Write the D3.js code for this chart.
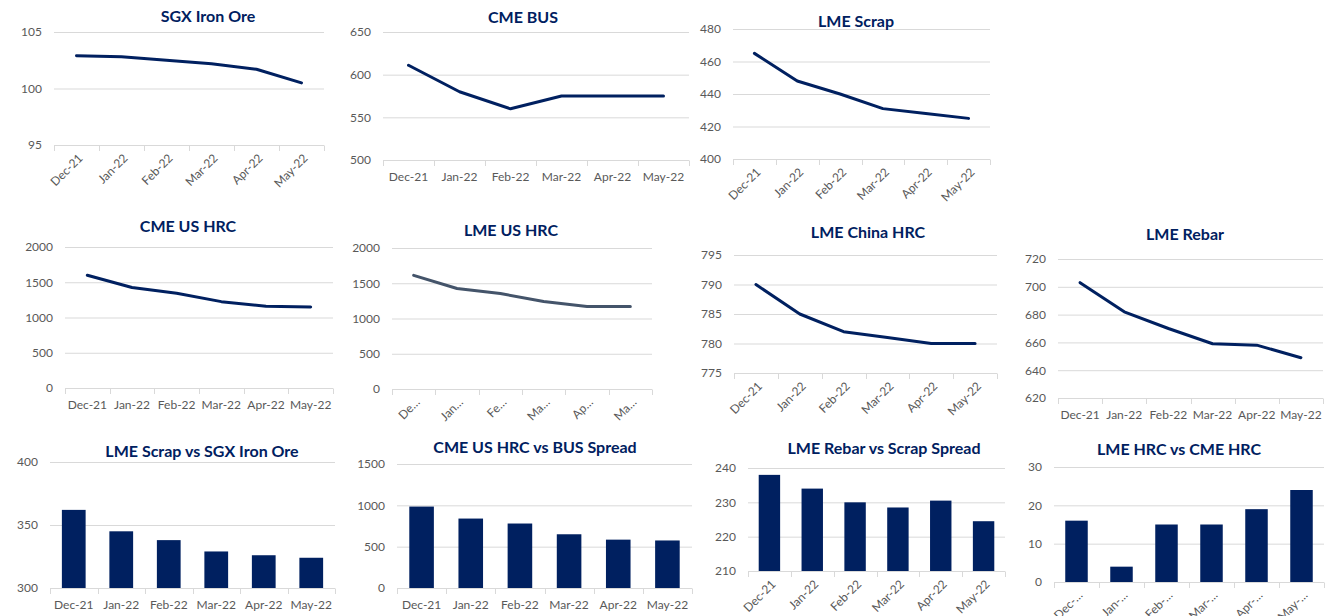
<!DOCTYPE html>
<html>
<head>
<meta charset="utf-8">
<script src="https://cdn.jsdelivr.net/npm/d3@7"></script>
<style>
  body { margin: 0; background: #fff; }
  svg text { font-family: Lato, "Open Sans", sans-serif; }
</style>
</head>
<body>
<div id="chart"></div>
<script>
// categories
const months = ["Dec-21", "Jan-22", "Feb-22", "Mar-22", "Apr-22", "May-22"];
const monthsCutA = ["De…", "Jan…", "Fe…", "Ma…", "Ap…", "Ma…"];
const monthsCutB = ["Dec-…", "Jan-…", "Feb-…", "Mar-…", "Apr-…", "May-…"];

// series values
const sgxIronOre = [102.9, 102.8, 102.5, 102.2, 101.7, 100.5];
const cmeBus = [611, 580, 560, 575, 575, 575];
const lmeScrap = [465, 448, 440, 431, 428, 425];
const cmeUsHrc = [1600, 1425, 1345, 1225, 1160, 1150];
const lmeUsHrc = [1612, 1425, 1355, 1240, 1170, 1170];
const lmeChinaHrc = [790, 785, 782, 781, 780, 780];
const lmeRebar = [703, 682, 670, 659, 658, 649];
const scrapVsIronOre = [362, 345, 338, 329, 326, 324];
const hrcVsBusSpread = [985, 840, 780, 650, 585, 575];
const rebarVsScrapSpread = [238, 234, 230, 228.5, 230.5, 224.5];
const lmeVsCmeHrc = [16, 4, 15, 15, 19, 24];

// y tick labels
const ticksIronOre = [95, 100, 105];
const ticksBus = [500, 550, 600, 650];
const ticksScrap = [400, 420, 440, 460, 480];
const ticksHrc = [0, 500, 1000, 1500, 2000];
const ticksChina = [775, 780, 785, 790, 795];
const ticksRebar = [620, 640, 660, 680, 700, 720];
const ticksScrapIron = [300, 350, 400];
const ticksSpread = [0, 500, 1000, 1500];
const ticksRebarScrap = [210, 220, 230, 240];
const ticksLmeCme = [0, 10, 20, 30];

const W = 1327, H = 616;
const navy = "#002060";
const fmt = d3.format("d");

// layout of the panels
const panels = [
  {title: "SGX Iron Ore", values: sgxIronOre, labels: months, type: "line", ticks: ticksIronOre, rotate: true,
   left: 54, right: 324, top: 32, bottom: 145, tx: 208, ty: 16},
  {title: "CME BUS", values: cmeBus, labels: months, type: "line", ticks: ticksBus, rotate: false,
   left: 383, right: 689, top: 32, bottom: 160, tx: 523, ty: 17},
  {title: "LME Scrap", values: lmeScrap, labels: months, type: "line", ticks: ticksScrap, rotate: true,
   left: 733, right: 990, top: 29, bottom: 159, tx: 856, ty: 21},
  {title: "CME US HRC", values: cmeUsHrc, labels: months, type: "line", ticks: ticksHrc, rotate: false,
   left: 65, right: 333, top: 247, bottom: 388, tx: 188, ty: 226},
  {title: "LME US HRC", values: lmeUsHrc, labels: monthsCutA, type: "line", ticks: ticksHrc, rotate: true,
   left: 392, right: 652, top: 248, bottom: 389, tx: 511, ty: 230, color: "#44546a"},
  {title: "LME China HRC", values: lmeChinaHrc, labels: months, type: "line", ticks: ticksChina, rotate: true,
   left: 734, right: 997, top: 255, bottom: 373, tx: 868, ty: 232},
  {title: "LME Rebar", values: lmeRebar, labels: months, type: "line", ticks: ticksRebar, rotate: false,
   left: 1058, right: 1323, top: 259, bottom: 398, tx: 1185, ty: 234},
  {title: "LME Scrap vs SGX Iron Ore", values: scrapVsIronOre, labels: months, type: "bar", ticks: ticksScrapIron, rotate: false,
   left: 50, right: 335, top: 462, bottom: 588, tx: 202, ty: 451},
  {title: "CME US HRC vs BUS Spread", values: hrcVsBusSpread, labels: months, type: "bar", ticks: ticksSpread, rotate: false,
   left: 397, right: 692, top: 464, bottom: 588, tx: 535, ty: 447},
  {title: "LME Rebar vs Scrap Spread", values: rebarVsScrapSpread, labels: months, type: "bar", ticks: ticksRebarScrap, rotate: true,
   left: 748, right: 1005, top: 468, bottom: 571, tx: 884, ty: 448},
  {title: "LME HRC vs CME HRC", values: lmeVsCmeHrc, labels: monthsCutB, type: "bar", ticks: ticksLmeCme, rotate: true,
   left: 1054, right: 1324, top: 467, bottom: 582, tx: 1179, ty: 449}
];

const svg = d3.select("#chart").append("svg")
    .attr("width", W)
    .attr("height", H);

panels.forEach(function(p) { drawPanel(p); });

function drawPanel(p) {
  let g = svg.append("g");
  let color = p.color || navy;

  // band domain is the full month list, the shown text may be cut short
  let x = d3.scaleBand().domain(months).range([p.left, p.right]).padding(0);
  let y = d3.scaleLinear().domain(d3.extent(p.ticks)).range([p.bottom, p.top]);
  let bw = x.bandwidth();

  // gridlines + y labels
  let ya = g.append("g")
      .attr("transform", "translate(" + p.left + ",0)")
      .call(d3.axisLeft(y).tickValues(p.ticks).tickFormat(fmt)
        .tickSize(-(p.right - p.left)).tickPadding(12));
  ya.select(".domain").remove();
  ya.selectAll(".tick line").attr("stroke", "#d9d9d9").attr("stroke-width", 1);
  ya.selectAll(".tick text")
      .attr("fill", "#595959")
      .style("font-size", "12px")
      .style("font-family", "Lato, 'Open Sans', sans-serif");

  // category labels
  let xa = g.append("g")
      .attr("transform", "translate(0," + p.bottom + ")")
      .call(d3.axisBottom(x).tickSize(0)
        .tickFormat(function(d, i) { return p.labels[i]; }));
  xa.select(".domain").remove();
  let xt = xa.selectAll(".tick text")
      .attr("fill", "#595959")
      .attr("y", 0)
      .attr("dy", "0.35em")
      .style("font-size", "12px")
      .style("font-family", "Lato, 'Open Sans', sans-serif");
  if (p.rotate) {
    xt.attr("text-anchor", "end")
      .attr("transform", "translate(4,11) rotate(-45)");
  } else {
    xt.attr("transform", "translate(0,17)");
  }

  // tick marks on the category boundaries
  let bounds = months.map(function(d) { return x(d); }).concat([p.right]);
  g.append("g").selectAll("line")
      .data(bounds)
      .enter().append("line")
      .attr("x1", function(d) { return Math.round(d) + 0.5; })
      .attr("x2", function(d) { return Math.round(d) + 0.5; })
      .attr("y1", p.bottom + 0.5)
      .attr("y2", p.bottom + 6)
      .attr("stroke", "#d9d9d9");

  let pts = months.map(function(d, i) { return {c: d, v: p.values[i]}; });

  if (p.type === "line") {
    let line = d3.line()
        .x(function(d) { return x(d.c) + bw / 2; })
        .y(function(d) { return y(d.v); });
    g.append("path")
        .datum(pts)
        .attr("d", line)
        .attr("fill", "none")
        .attr("stroke", color)
        .attr("stroke-width", 3)
        .attr("stroke-linecap", "round")
        .attr("stroke-linejoin", "round");
  } else {
    g.append("g").selectAll("rect")
        .data(pts)
        .enter().append("rect")
        .attr("x", function(d) { return x(d.c) + bw * 0.25; })
        .attr("width", bw * 0.5)
        .attr("y", function(d) { return y(d.v); })
        .attr("height", function(d) { return y.range()[0] - y(d.v); })
        .attr("fill", color);
  }

  g.append("text")
      .attr("x", p.tx)
      .attr("y", p.ty)
      .attr("dy", "0.35em")
      .attr("text-anchor", "middle")
      .attr("fill", navy)
      .style("font-size", "16px")
      .style("font-weight", "bold")
      .text(p.title);
}
</script>
</body>
</html>
